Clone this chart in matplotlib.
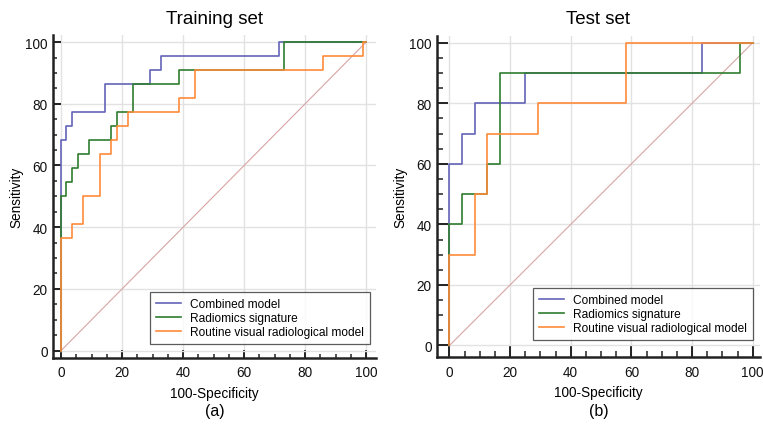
import matplotlib
matplotlib.use("Agg")
import matplotlib.pyplot as plt
from matplotlib.ticker import MultipleLocator

plt.rcParams['font.family'] = ['Liberation Sans', 'DejaVu Sans']

# ROC data (100-specificity, sensitivity), step style
labels = ["Combined model", "Radiomics signature", "Routine visual radiological model"]
colors = ["#6464b9", "#2f7d2f", "#ff8a3a"]

# training set
train_comb_fpr = [0, 0, 1.6, 3.5, 14.5, 29.2, 32.8, 71.4, 100]
train_comb_tpr = [0, 68.2, 72.7, 77.3, 86.4, 90.9, 95.5, 100, 100]
train_rad_fpr = [0, 0, 1.6, 3.5, 5.4, 9.1, 16.2, 18.2, 23.5, 38.6, 73.2, 100]
train_rad_tpr = [0, 50.0, 54.5, 59.1, 63.6, 68.2, 72.7, 77.3, 86.4, 90.9, 100, 100]
train_rout_fpr = [0, 0, 3.5, 7.1, 12.8, 16.2, 18.2, 21.9, 38.6, 44.0, 86.0, 98.9, 100]
train_rout_tpr = [0, 36.4, 40.9, 50.0, 63.6, 68.2, 72.7, 77.3, 81.8, 90.9, 95.5, 100, 100]

# test set
test_comb_fpr = [0, 0, 4.17, 8.33, 25.0, 83.33, 100]
test_comb_tpr = [0, 60, 70, 80, 90, 100, 100]
test_rad_fpr = [0, 0, 4.17, 12.5, 16.67, 95.83, 100]
test_rad_tpr = [0, 40, 50, 60, 90, 100, 100]
test_rout_fpr = [0, 0, 8.33, 12.5, 29.17, 58.33, 100]
test_rout_tpr = [0, 30, 50, 70, 80, 100, 100]


def draw_panel(ax, curves, title, xlim, ylim, ticklen, leg_anchor):
    ax.plot([0, 100], [0, 100], color="#d8a4a4", lw=0.8, zorder=2)
    for (fpr, tpr), lab, col in zip(curves, labels, colors):
        ax.step(fpr, tpr, where='post', color=col, lw=1.2, label=lab, zorder=3)

    ax.set_xlim(*xlim)
    ax.set_ylim(*ylim)
    ax.set_xticks([0, 20, 40, 60, 80, 100])
    ax.set_yticks([0, 20, 40, 60, 80, 100])
    ax.xaxis.set_minor_locator(MultipleLocator(5))
    ax.yaxis.set_minor_locator(MultipleLocator(5))
    ax.grid(True, which='major', color="#e2e2e2", lw=1.0, zorder=0)
    ax.set_axisbelow(True)

    for s in ['top', 'right']:
        ax.spines[s].set_visible(False)
    for s in ['left', 'bottom']:
        ax.spines[s].set_linewidth(1.8)
        ax.spines[s].set_color("#222222")

    ax.tick_params(which='major', direction='in', length=ticklen, width=1.4,
                   color="#222222", labelsize=9.8, labelcolor="#111111")
    ax.tick_params(which='minor', direction='in', length=ticklen * 0.5, width=1.1,
                   color="#222222")
    ax.tick_params(axis='x', which='major', pad=5.5)
    ax.tick_params(axis='y', which='major', pad=3.5)

    ax.set_title(title, fontsize=13.5, pad=9)
    ax.set_xlabel("100-Specificity", fontsize=9.8, labelpad=4.5)
    ax.set_ylabel("Sensitivity", fontsize=9.8, labelpad=1.5)

    leg = ax.legend(loc='lower right', bbox_to_anchor=leg_anchor, fontsize=8.6,
                    frameon=True, fancybox=False, edgecolor="#333333",
                    borderaxespad=0, handlelength=2.1, labelspacing=0.15,
                    borderpad=0.5, handletextpad=0.8)
    leg.get_frame().set_linewidth(0.9)


fig = plt.figure(figsize=(7.63, 4.31), dpi=100)
W, H = 763, 431

ax1 = fig.add_axes([52.7 / W, (H - 358.7) / H, 323.5 / W, 322.4 / H])
draw_panel(ax1,
           [(train_comb_fpr, train_comb_tpr), (train_rad_fpr, train_rad_tpr),
            (train_rout_fpr, train_rout_tpr)],
           "Training set", (-2.75, 103.3), (-2.3, 102.2), 6, (0.981, 0.0425))

ax2 = fig.add_axes([436.7 / W, (H - 358.3) / H, 323.6 / W, 321.5 / H])
draw_panel(ax2,
           [(test_comb_fpr, test_comb_tpr), (test_rad_fpr, test_rad_tpr),
            (test_rout_fpr, test_rout_tpr)],
           "Test set", (-4.2, 102.5), (-3.9, 102.3), 8, (0.978, 0.054))

fig.text(215 / W, 1 - 412 / H, "(a)", ha='center', va='center', fontsize=11.5)
fig.text(598.5 / W, 1 - 412 / H, "(b)", ha='center', va='center', fontsize=11.5)

fig.savefig("out.png", dpi=100)
